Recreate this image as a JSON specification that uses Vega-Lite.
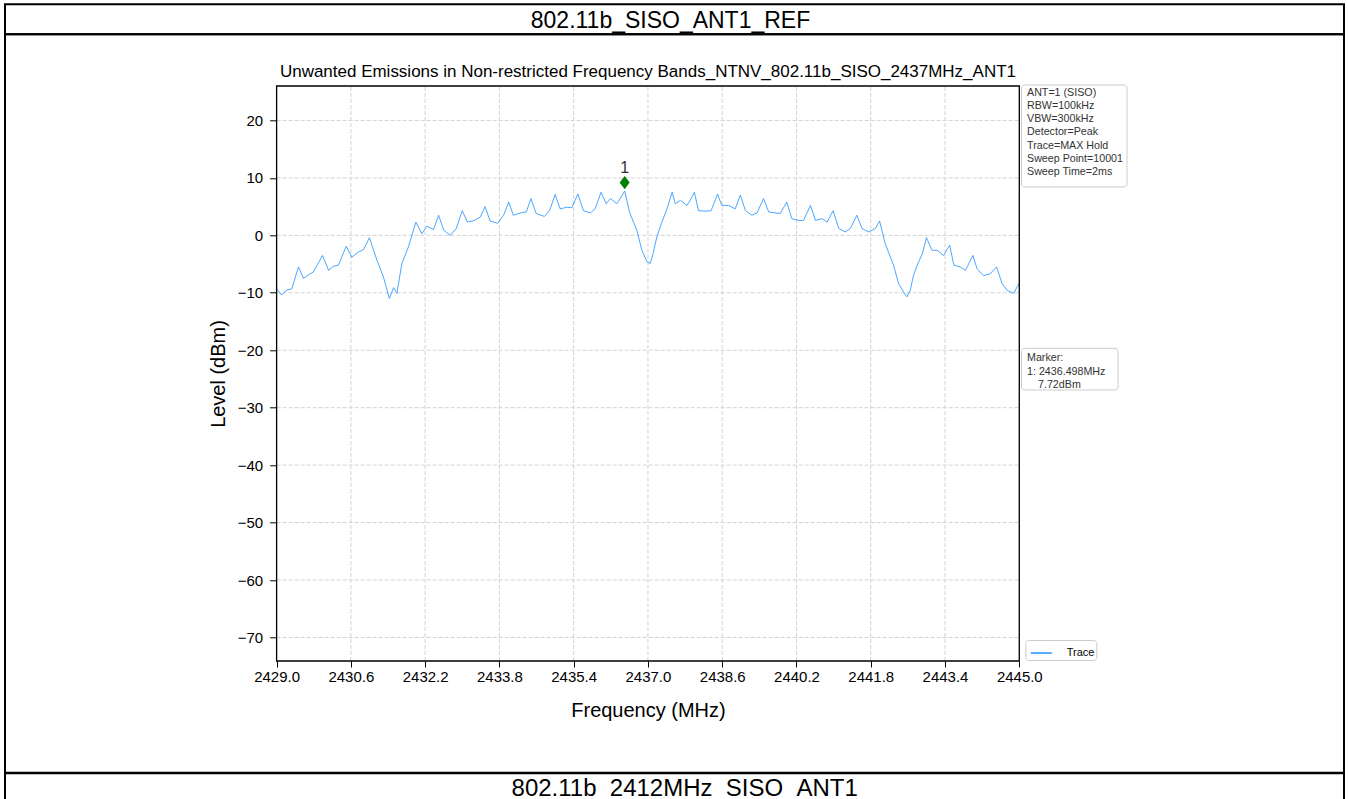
{
  "$schema": "https://vega.github.io/schema/vega-lite/v6.json",
  "background": "white",
  "padding": {"left": 4, "top": 3.3, "right": 0, "bottom": 0},
  "spacing": 0,
  "bounds": "flush",
  "config": {
    "view": {"stroke": "#000000", "strokeWidth": 2},
    "font": "Liberation Sans",
    "text": {"font": "Liberation Sans"}
  },
  "resolve": {"scale": {"color": "independent"}, "legend": {"color": "independent"}},
  "vconcat": [
    {
      "width": 1339,
      "height": 30,
      "data": {"values": [{"label": "802.11b_SISO_ANT1_REF"}]},
      "mark": {"type": "text", "fontSize": 23, "color": "#000000", "dy": 2, "baseline": "middle", "align": "center"},
      "encoding": {
        "x": {"datum": 0.497, "type": "quantitative", "scale": {"domain": [0, 1]}, "axis": null},
        "y": {"datum": 0.5, "type": "quantitative", "scale": {"domain": [0, 1]}, "axis": null},
        "text": {"field": "label", "type": "nominal"}
      }
    },
    {
      "width": 1339,
      "height": 738.4,
      "layer": [
        {
          "data": {"values": [{"f": 2429.0}, {"f": 2430.6}, {"f": 2432.2}, {"f": 2433.8}, {"f": 2435.4}, {"f": 2437.0}, {"f": 2438.6}, {"f": 2440.2}, {"f": 2441.8}, {"f": 2443.4}, {"f": 2445.0}]},
          "mark": {"type": "rule", "stroke": "#d2d2d2", "strokeDash": [4, 2], "strokeWidth": 1},
          "encoding": {
            "x": {"field": "f", "type": "quantitative"},
            "y": {"datum": -74.1, "type": "quantitative"},
            "y2": {"datum": 26.0}
          }
        },
        {
          "data": {"values": [{"v": -70}, {"v": -60}, {"v": -50}, {"v": -40}, {"v": -30}, {"v": -20}, {"v": -10}, {"v": 0}, {"v": 10}, {"v": 20}]},
          "mark": {"type": "rule", "stroke": "#d2d2d2", "strokeDash": [4, 2], "strokeWidth": 1},
          "encoding": {
            "y": {"field": "v", "type": "quantitative"},
            "x": {"datum": 2429, "type": "quantitative"},
            "x2": {"datum": 2445}
          }
        },
        {
          "data": {"values": [
            {"freq": 2429.00, "level": -9.3}, {"freq": 2429.11, "level": -10.4}, {"freq": 2429.20, "level": -9.6}, {"freq": 2429.33, "level": -9.3},
            {"freq": 2429.47, "level": -5.5}, {"freq": 2429.58, "level": -7.5}, {"freq": 2429.70, "level": -6.8}, {"freq": 2429.79, "level": -6.4},
            {"freq": 2429.99, "level": -3.5}, {"freq": 2430.12, "level": -6.1}, {"freq": 2430.22, "level": -5.4}, {"freq": 2430.33, "level": -5.2},
            {"freq": 2430.50, "level": -1.9}, {"freq": 2430.62, "level": -3.8}, {"freq": 2430.76, "level": -2.9}, {"freq": 2430.87, "level": -2.5},
            {"freq": 2431.00, "level": -0.4}, {"freq": 2431.16, "level": -4.3}, {"freq": 2431.30, "level": -7.2}, {"freq": 2431.43, "level": -11.0},
            {"freq": 2431.52, "level": -9.1}, {"freq": 2431.59, "level": -10.1}, {"freq": 2431.70, "level": -4.9}, {"freq": 2431.84, "level": -2.0},
            {"freq": 2432.00, "level": 2.3}, {"freq": 2432.13, "level": 0.3}, {"freq": 2432.24, "level": 1.6}, {"freq": 2432.38, "level": 1.0},
            {"freq": 2432.49, "level": 3.5}, {"freq": 2432.60, "level": 0.9}, {"freq": 2432.74, "level": 0.0}, {"freq": 2432.87, "level": 1.2},
            {"freq": 2433.00, "level": 4.3}, {"freq": 2433.11, "level": 2.3}, {"freq": 2433.26, "level": 2.6}, {"freq": 2433.39, "level": 3.2},
            {"freq": 2433.49, "level": 5.0}, {"freq": 2433.60, "level": 2.5}, {"freq": 2433.76, "level": 2.1}, {"freq": 2433.89, "level": 3.5},
            {"freq": 2434.00, "level": 5.8}, {"freq": 2434.10, "level": 3.5}, {"freq": 2434.26, "level": 3.9}, {"freq": 2434.38, "level": 4.1},
            {"freq": 2434.48, "level": 6.4}, {"freq": 2434.59, "level": 3.8}, {"freq": 2434.77, "level": 3.3}, {"freq": 2434.88, "level": 4.3},
            {"freq": 2435.00, "level": 7.1}, {"freq": 2435.11, "level": 4.6}, {"freq": 2435.25, "level": 4.9}, {"freq": 2435.36, "level": 4.8},
            {"freq": 2435.49, "level": 7.2}, {"freq": 2435.61, "level": 4.3}, {"freq": 2435.76, "level": 3.9}, {"freq": 2435.86, "level": 4.6},
            {"freq": 2435.99, "level": 7.5}, {"freq": 2436.10, "level": 5.5}, {"freq": 2436.19, "level": 6.4}, {"freq": 2436.33, "level": 5.5},
            {"freq": 2436.50, "level": 7.7}, {"freq": 2436.60, "level": 4.1}, {"freq": 2436.76, "level": 0.9}, {"freq": 2436.87, "level": -2.6},
            {"freq": 2436.98, "level": -4.6}, {"freq": 2437.05, "level": -4.9}, {"freq": 2437.11, "level": -3.2}, {"freq": 2437.19, "level": -0.3},
            {"freq": 2437.30, "level": 2.3}, {"freq": 2437.41, "level": 4.6}, {"freq": 2437.52, "level": 7.5}, {"freq": 2437.59, "level": 5.5},
            {"freq": 2437.70, "level": 6.1}, {"freq": 2437.84, "level": 5.2}, {"freq": 2437.91, "level": 6.1}, {"freq": 2438.00, "level": 7.5},
            {"freq": 2438.09, "level": 4.3}, {"freq": 2438.24, "level": 4.2}, {"freq": 2438.36, "level": 4.3}, {"freq": 2438.50, "level": 7.2},
            {"freq": 2438.59, "level": 5.2}, {"freq": 2438.74, "level": 5.2}, {"freq": 2438.88, "level": 4.6}, {"freq": 2438.99, "level": 7.0},
            {"freq": 2439.10, "level": 4.3}, {"freq": 2439.24, "level": 3.5}, {"freq": 2439.35, "level": 3.9}, {"freq": 2439.49, "level": 6.4},
            {"freq": 2439.60, "level": 4.1}, {"freq": 2439.74, "level": 3.9}, {"freq": 2439.85, "level": 3.8}, {"freq": 2439.99, "level": 5.8},
            {"freq": 2440.10, "level": 2.9}, {"freq": 2440.25, "level": 2.6}, {"freq": 2440.35, "level": 2.6}, {"freq": 2440.50, "level": 5.2},
            {"freq": 2440.61, "level": 2.6}, {"freq": 2440.75, "level": 2.9}, {"freq": 2440.86, "level": 2.3}, {"freq": 2440.99, "level": 4.3},
            {"freq": 2441.11, "level": 1.2}, {"freq": 2441.25, "level": 0.6}, {"freq": 2441.36, "level": 1.2}, {"freq": 2441.50, "level": 3.5},
            {"freq": 2441.61, "level": 1.2}, {"freq": 2441.75, "level": 0.6}, {"freq": 2441.90, "level": 1.2}, {"freq": 2441.99, "level": 2.5},
            {"freq": 2442.11, "level": -1.4}, {"freq": 2442.29, "level": -5.2}, {"freq": 2442.40, "level": -8.4}, {"freq": 2442.51, "level": -9.9},
            {"freq": 2442.58, "level": -10.7}, {"freq": 2442.65, "level": -9.6}, {"freq": 2442.72, "level": -7.0}, {"freq": 2442.80, "level": -5.2},
            {"freq": 2442.91, "level": -3.2}, {"freq": 2443.00, "level": -0.4}, {"freq": 2443.12, "level": -2.6}, {"freq": 2443.23, "level": -2.6},
            {"freq": 2443.37, "level": -3.5}, {"freq": 2443.50, "level": -1.7}, {"freq": 2443.59, "level": -5.2}, {"freq": 2443.73, "level": -5.5},
            {"freq": 2443.84, "level": -6.1}, {"freq": 2444.00, "level": -3.5}, {"freq": 2444.09, "level": -5.8}, {"freq": 2444.23, "level": -7.0},
            {"freq": 2444.37, "level": -6.7}, {"freq": 2444.51, "level": -5.5}, {"freq": 2444.63, "level": -8.4}, {"freq": 2444.74, "level": -9.6},
            {"freq": 2444.88, "level": -10.1}, {"freq": 2444.99, "level": -8.4}, {"freq": 2445.00, "level": -8.6}
          ]},
          "mark": {"type": "line", "strokeWidth": 0.8},
          "encoding": {
            "x": {
              "field": "freq", "type": "quantitative",
              "scale": {"domain": [2429, 2445], "range": [271.6, 1014.3], "nice": false, "zero": false},
              "axis": {
                "values": [2429.0, 2430.6, 2432.2, 2433.8, 2435.4, 2437.0, 2438.6, 2440.2, 2441.8, 2443.4, 2445.0],
                "format": ".1f", "offset": -111.7, "grid": false, "domain": false, "zindex": 2,
                "tickSize": 6, "tickColor": "#000000", "tickWidth": 1,
                "labelFontSize": 15, "labelColor": "#000000", "labelPadding": 3, "labelFont": "Liberation Sans",
                "labelFlush": false, "labelOverlap": false,
                "title": "Frequency (MHz)", "titleFontSize": 20, "titleFontWeight": "normal", "titleColor": "#000000",
                "titlePadding": 16, "titleFont": "Liberation Sans"
              }
            },
            "y": {
              "field": "level", "type": "quantitative",
              "scale": {"domain": [-74.1, 26.0], "range": [626.7, 51.7], "nice": false, "zero": false},
              "axis": {
                "values": [-70, -60, -50, -40, -30, -20, -10, 0, 10, 20],
                "format": "d", "offset": -271.6, "grid": false, "domain": false, "zindex": 2,
                "tickSize": 7, "tickColor": "#000000", "tickWidth": 1,
                "labelFontSize": 15, "labelColor": "#000000", "labelPadding": 7, "labelFont": "Liberation Sans",
                "labelFlush": false, "labelOverlap": false,
                "title": "Level (dBm)", "titleFontSize": 20, "titleFontWeight": "normal", "titleColor": "#000000",
                "titlePadding": 9, "titleFont": "Liberation Sans"
              }
            },
            "color": {
              "datum": "Trace", "type": "nominal",
              "scale": {"range": ["#1e90ff"]},
              "legend": {
                "title": null, "orient": "none", "legendX": 1020.3, "legendY": 605.7,
                "symbolType": "stroke", "symbolSize": 441, "symbolStrokeWidth": 1.5, "symbolOffset": 3,
                "labelFontSize": 11, "labelFont": "Liberation Sans", "labelColor": "#000000", "labelOffset": 14,
                "padding": 1.5, "strokeColor": "#cccccc", "fillColor": "#ffffff", "cornerRadius": 3
              }
            }
          }
        },
        {
          "data": {"values": [{"frame": "plot"}]},
          "mark": {"type": "rect", "fillOpacity": 0, "stroke": "#000000", "strokeWidth": 1.3},
          "encoding": {
            "x": {"datum": 2429, "type": "quantitative"},
            "x2": {"datum": 2445},
            "y": {"datum": -74.1, "type": "quantitative"},
            "y2": {"datum": 26.0}
          }
        },
        {
          "data": {"values": [{"marker": "1", "freq": 2436.498, "level": 7.72}]},
          "mark": {"type": "point", "shape": "M0,-1L0.75,0L0,1L-0.75,0Z", "filled": true, "color": "#008000", "size": 177, "opacity": 1, "yOffset": -8.4},
          "encoding": {
            "x": {"field": "freq", "type": "quantitative"},
            "y": {"field": "level", "type": "quantitative"}
          }
        },
        {
          "data": {"values": [{"marker": "1", "freq": 2436.498, "level": 7.72}]},
          "mark": {"type": "text", "fontSize": 16, "color": "#333333", "baseline": "alphabetic", "align": "center", "dy": -17.8},
          "encoding": {
            "x": {"field": "freq", "type": "quantitative"},
            "y": {"field": "level", "type": "quantitative"},
            "text": {"field": "marker", "type": "nominal"}
          }
        },
        {
          "data": {"values": [{"title": "Unwanted Emissions in Non-restricted Frequency Bands_NTNV_802.11b_SISO_2437MHz_ANT1"}]},
          "mark": {"type": "text", "fontSize": 17, "color": "#000000", "baseline": "alphabetic", "align": "center"},
          "encoding": {
            "x": {"datum": 2437, "type": "quantitative"},
            "y": {"datum": 27.5, "type": "quantitative"},
            "text": {"field": "title", "type": "nominal"}
          }
        },
        {
          "data": {"values": [{"box": "settings"}]},
          "mark": {"type": "rect", "fill": "#ffffff", "stroke": "#cccccc", "strokeWidth": 1, "cornerRadius": 3},
          "encoding": {
            "x": {"datum": 2445.047, "type": "quantitative"},
            "x2": {"datum": 2447.32},
            "y": {"datum": 26.18, "type": "quantitative"},
            "y2": {"datum": 8.43}
          }
        },
        {
          "data": {"values": [{"lines": ["ANT=1 (SISO)", "RBW=100kHz", "VBW=300kHz", "Detector=Peak", "Trace=MAX Hold", "Sweep Point=10001", "Sweep Time=2ms"]}]},
          "mark": {"type": "text", "fontSize": 10.7, "color": "#333333", "baseline": "top", "align": "left", "lineHeight": 13.1},
          "encoding": {
            "x": {"datum": 2445.166, "type": "quantitative"},
            "y": {"datum": 25.63, "type": "quantitative"},
            "text": {"field": "lines", "type": "nominal"}
          }
        },
        {
          "data": {"values": [{"box": "marker"}]},
          "mark": {"type": "rect", "fill": "#ffffff", "stroke": "#cccccc", "strokeWidth": 1, "cornerRadius": 3},
          "encoding": {
            "x": {"datum": 2445.047, "type": "quantitative"},
            "x2": {"datum": 2447.126},
            "y": {"datum": -19.66, "type": "quantitative"},
            "y2": {"datum": -26.92}
          }
        },
        {
          "data": {"values": [{"lines": ["Marker:", "1: 2436.498MHz"]}]},
          "mark": {"type": "text", "fontSize": 10.7, "color": "#333333", "baseline": "top", "align": "left", "lineHeight": 13.1},
          "encoding": {
            "x": {"datum": 2445.166, "type": "quantitative"},
            "y": {"datum": -20.56, "type": "quantitative"},
            "text": {"field": "lines", "type": "nominal"}
          }
        },
        {
          "data": {"values": [{"value": "7.72dBm"}]},
          "mark": {"type": "text", "fontSize": 10.7, "color": "#333333", "baseline": "top", "align": "left", "dx": 11, "dy": 26.2},
          "encoding": {
            "x": {"datum": 2445.166, "type": "quantitative"},
            "y": {"datum": -20.56, "type": "quantitative"},
            "text": {"field": "value", "type": "nominal"}
          }
        }
      ]
    },
    {
      "width": 1339,
      "height": 30,
      "data": {"values": [{"label": "802.11b_2412MHz_SISO_ANT1"}]},
      "mark": {"type": "text", "fontSize": 24, "color": "#000000", "dy": 1, "baseline": "middle", "align": "center"},
      "encoding": {
        "x": {"datum": 0.5076, "type": "quantitative", "scale": {"domain": [0, 1]}, "axis": null},
        "y": {"datum": 0.5, "type": "quantitative", "scale": {"domain": [0, 1]}, "axis": null},
        "text": {"field": "label", "type": "nominal"}
      }
    }
  ]
}
